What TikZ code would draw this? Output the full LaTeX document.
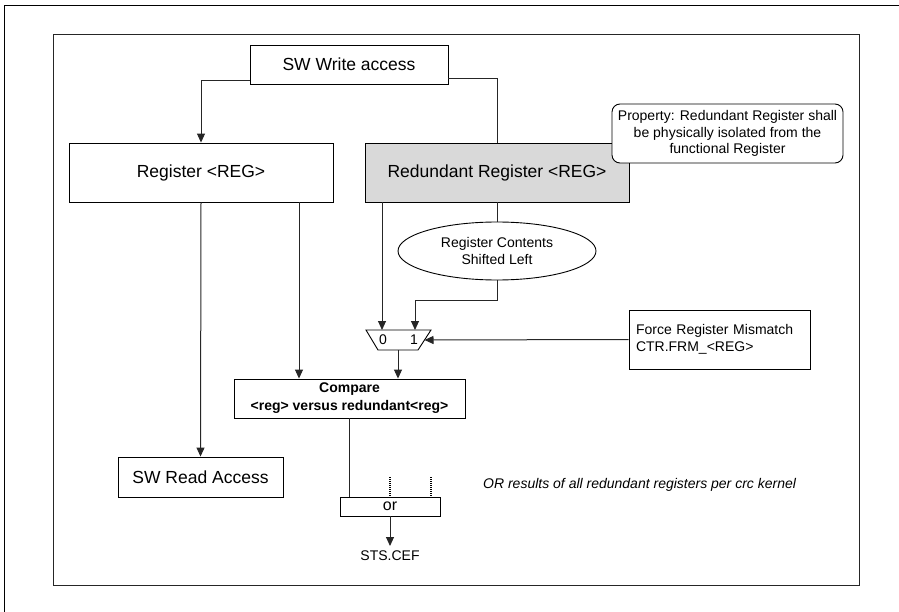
\documentclass[tikz,border=0pt]{standalone}
\usepackage{fontspec}
\setmainfont{Liberation Sans}
\usetikzlibrary{arrows.meta,shapes.geometric,calc}
\definecolor{regfill}{RGB}{217,217,217}
\begin{document}
\begin{tikzpicture}[x=1pt,y=-1pt,
  box/.style={draw=black, line width=0.9pt, fill=white, inner sep=0pt},
  big/.style={font=\fontsize{17.5}{20}\selectfont},
  small/.style={font=\fontsize{14}{16.5}\selectfont},
  ln/.style={draw=black!85, line width=1pt},
  arr/.style={ln, -{Triangle[length=9pt,width=8pt]}},
  dots/.style={draw=black, line width=1.8pt, dash pattern=on 1.2pt off 0.8pt}]
\useasboundingbox (0,0) rectangle (899,612);
% frames
\draw[line width=1pt] (4,612) -- (4,6) -- (899,6);
\draw[draw=black!85, line width=1pt] (53,35) rectangle (859,585);
% nodes
\node[box, big, minimum width=198pt, minimum height=39pt] (sww) at (349,64.5) {SW Write access};
\node[box, big, minimum width=264pt, minimum height=59pt] (reg) at (201,172.5) {Register <REG>};
\node[box, big, fill=regfill, minimum width=264pt, minimum height=59pt] (red) at (497,172.5) {Redundant Register <REG>};
\node[box, small, rounded corners=8pt, minimum width=231pt, minimum height=59pt, align=center] (prop) at (727.5,133.5) {Property: Redundant Register shall\\be physically isolated from the\\functional Register};
\node[ellipse, draw=black, line width=0.9pt, fill=white, inner sep=0pt, small, minimum width=198pt, minimum height=58pt, align=center] (ell) at (497,251) {Register Contents\\Shifted Left};
\node[box, small, minimum height=59pt, text width=167pt, inner xsep=7pt, align=left] (force) at (719.5,339.5) {Force Register Mismatch\\CTR.FRM\_<REG>};
\node[box, font=\fontsize{14}{18}\selectfont\bfseries, minimum width=231pt, minimum height=39pt, align=center] (cmp) at (349.5,398.5) {Compare\\<reg> versus redundant<reg>};
\node[box, big, minimum width=165pt, minimum height=40pt] (read) at (200.5,477) {SW Read Access};
\node[box, font=\fontsize{16}{18}\selectfont, minimum width=100pt, minimum height=19pt] (orb) at (390,506.5) {or};
\node[small, inner sep=0pt, anchor=north] (sts) at (390,551) {STS.CEF};
\node[small, font=\fontsize{14}{16.5}\selectfont\itshape, anchor=west, inner sep=0pt] (note) at (483,485) {OR results of all redundant registers per crc kernel};
% mux
\draw[box] (366,330) -- (431,330) -- (418,350) -- (378,350) -- cycle;
\node[font=\fontsize{14}{16}\selectfont, inner sep=0pt] (mux0) at (383,339.5) {0};
\node[font=\fontsize{14}{16}\selectfont, inner sep=0pt] (mux1) at (414,339.5) {1};
\coordinate (m0) at (382,330);
\coordinate (m1) at (415,330);
\coordinate (mo) at (398,350);
\coordinate (mr) at (424.5,340);
\coordinate (k1) at (415,300);
\coordinate (d1) at (390,477);
\coordinate (d2) at (431,477);
\coordinate (d2b) at (431,497);
% connectors
\draw[arr] ([yshift=4pt]sww.south west) -| (reg.north);
\draw[ln] ([yshift=6pt]sww.south east) -| (red.north);
\draw[arr] (reg.south) -- (read.north);
\draw[arr] ([xshift=98pt]reg.south) -- ([xshift=98pt]reg.south |- cmp.north);
\draw[arr] ([xshift=-115pt]red.south) -- (m0);
\draw[ln] (red.south) -- (ell.north);
\draw[arr] (ell.south) |- (k1) -- (m1);
\draw[arr] (force.west) -- (mr);
\draw[arr] (mo) -- (mo |- cmp.north);
\draw[ln] (cmp.south) -- (cmp.south |- orb.north);
\draw[dots] (d1) -- (orb.north);
\draw[dots] (d2) -- (d2b);
\draw[arr] (orb.south) -- ([yshift=5pt]sts.north);
\end{tikzpicture}
\end{document}
